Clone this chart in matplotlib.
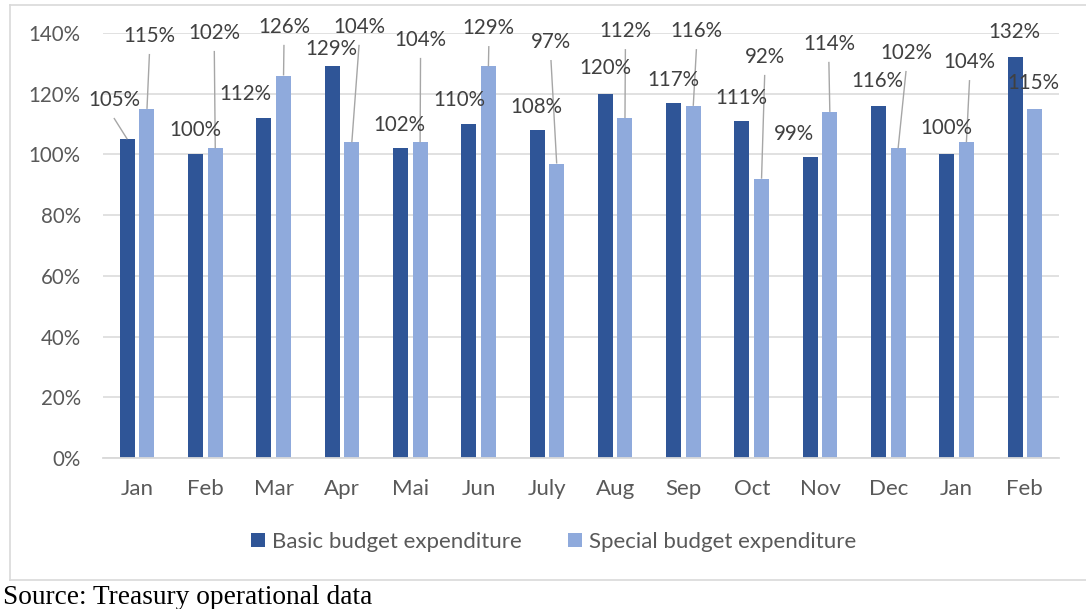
import matplotlib
matplotlib.use("Agg")
import matplotlib.pyplot as plt
from matplotlib.lines import Line2D
from matplotlib.patches import Patch
import numpy as np

# Monthly execution rates (%)
months = ["Jan", "Feb", "Mar", "Apr", "Mai", "Jun", "July", "Aug",
          "Sep", "Oct", "Nov", "Dec", "Jan", "Feb"]
basic = [105, 100, 112, 129, 102, 110, 108, 120, 117, 111, 99, 116, 100, 132]
special = [115, 102, 126, 104, 104, 129, 97, 112, 116, 92, 114, 102, 104, 115]
series_names = ["Basic budget expenditure", "Special budget expenditure"]
y_ticks = [0, 20, 40, 60, 80, 100, 120, 140]

# Data-label placement: (x offset in category units, label height in %)
basic_lbl_dx = [-0.34, -0.15, -0.41, -0.16, -0.16, -0.28, -0.15, -0.15,
                -0.15, -0.15, -0.38, -0.16, -0.15, -0.16]
basic_lbl_y = [117.9, 108.0, 119.9, 134.7, 109.7, 117.9, 115.6, 128.5,
               124.5, 118.6, 106.7, 124.2, 108.7, 140.3]
basic_leader = [True] + [False] * 13
special_lbl_dx = [0.18, 0.13, 0.15, 0.25, 0.15, 0.15, 0.06, 0.15,
                  0.19, 0.19, 0.13, 0.26, 0.19, 0.13]
special_lbl_y = [139.0, 140.0, 142.0, 142.0, 137.7, 141.6, 137.0, 140.6,
                 140.6, 132.1, 136.4, 133.4, 130.4, 123.5]
special_leader = [True] * 13 + [False]

DARK = "#2F5597"
LIGHT = "#8FAADC"
GRID = "#D9D9D9"
LABEL_C = "#404040"
TICK_C = "#595959"
LEADER_C = "#A6A6A6"
FONT = "Lato"
FS = 14.8
FS_TXT = 16

W, H = 1086, 609
fig = plt.figure(figsize=(W / 100, H / 100), dpi=100)
fig.patch.set_facecolor("white")

# plot area in pixel terms
left_px, right_px, bottom_px, top_px = 103, 1059, 458, 33
ax = fig.add_axes([left_px / W, 1 - bottom_px / H,
                   (right_px - left_px) / W, (bottom_px - top_px) / H])

x = np.arange(len(months))
off = 0.144
bw = 0.22
ax.bar(x - off, basic, width=bw, color=DARK, zorder=3)
ax.bar(x + off, special, width=bw, color=LIGHT, zorder=3)

ax.set_xlim(-0.5, len(months) - 0.5)
ax.set_ylim(0, 140)
ax.set_yticks(y_ticks)
ax.set_yticklabels([f"{t}%" for t in y_ticks])
ax.set_xticks(x)
ax.set_xticklabels(months)
ax.tick_params(axis="both", length=0, labelcolor=TICK_C)
ax.tick_params(axis="x", pad=15, labelsize=FS_TXT)
ax.tick_params(axis="y", pad=16, labelsize=FS)
for lab in ax.get_xticklabels() + ax.get_yticklabels():
    lab.set_fontfamily(FONT)

ax.grid(axis="y", color=GRID, linewidth=1.1, zorder=0)
ax.set_axisbelow(True)
for s in ["left", "right", "top"]:
    ax.spines[s].set_visible(False)
ax.spines["bottom"].set_color(GRID)
ax.spines["bottom"].set_linewidth(1.3)
ax.spines["bottom"].set_zorder(4)

gap = 5.9  # distance (in %) from label centre to start of its leader line


def add_labels(vals, dxs, ys, leaders, side):
    for i, (v, dx, ly, ld) in enumerate(zip(vals, dxs, ys, leaders)):
        ax.text(i + dx, ly, f"{v}%", ha="center", va="center",
                fontsize=FS, color=LABEL_C, family=FONT, zorder=6,
                clip_on=False)
        if ld:
            ax.plot([i + dx, i + side * off], [ly - gap, v],
                    color=LEADER_C, linewidth=1.0, zorder=5,
                    clip_on=False, solid_capstyle="butt")


add_labels(basic, basic_lbl_dx, basic_lbl_y, basic_leader, -1)
add_labels(special, special_lbl_dx, special_lbl_y, special_leader, +1)

# legend
handles = [Patch(facecolor=DARK, edgecolor="none"),
           Patch(facecolor=LIGHT, edgecolor="none")]
fig.legend(handles, series_names, loc="center",
           bbox_to_anchor=(553.5 / W, 1 - 542 / H), ncol=2, frameon=False,
           prop={"family": FONT, "size": FS_TXT}, labelcolor=TICK_C,
           handlelength=0.62, handleheight=0.62, handletextpad=0.3,
           columnspacing=2.1, borderpad=0, borderaxespad=0)

# chart area border
for xs, ys in [([10, 10], [5, 580]), ([10, W], [5, 5]), ([10, W], [580, 580])]:
    fig.add_artist(Line2D([v / W for v in xs], [1 - v / H for v in ys],
                          color=GRID, linewidth=1.2))

fig.text(3 / W, 1 - 597 / H, "Source: Treasury operational data",
         family="Liberation Serif", fontsize=19.7, color="black",
         ha="left", va="center")

fig.savefig("out.png", dpi=100, facecolor="white")
